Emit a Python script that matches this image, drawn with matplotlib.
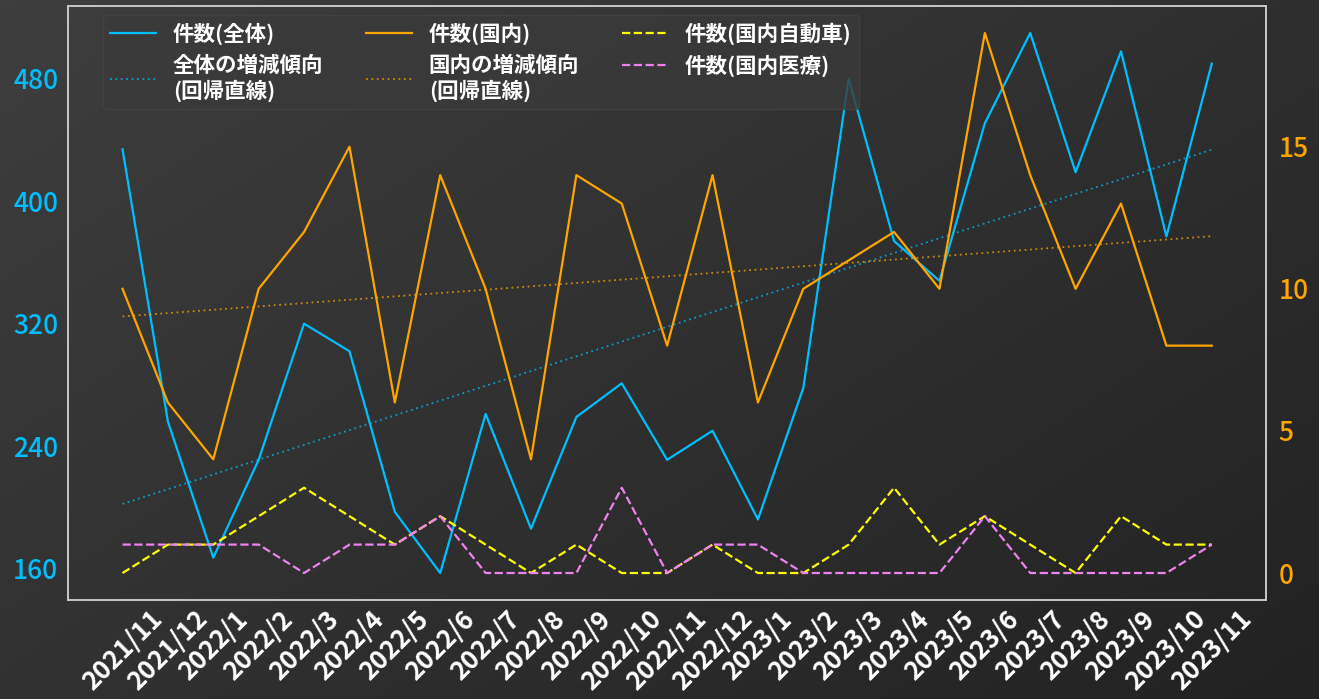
import numpy as np
import matplotlib
matplotlib.use("Agg")
import matplotlib.pyplot as plt
from matplotlib.colors import LinearSegmentedColormap

plt.rcParams["font.family"] = ["Noto Sans CJK JP", "DejaVu Sans"]

# Monthly counts, 2021/11 .. 2023/11
months = ["2021/11", "2021/12", "2022/1", "2022/2", "2022/3", "2022/4", "2022/5",
          "2022/6", "2022/7", "2022/8", "2022/9", "2022/10", "2022/11", "2022/12",
          "2023/1", "2023/2", "2023/3", "2023/4", "2023/5", "2023/6", "2023/7",
          "2023/8", "2023/9", "2023/10", "2023/11"]
total = [434, 256, 167, 231, 320, 302, 197, 157, 261, 186, 259, 281, 231,
         250, 192, 278, 480, 374, 348, 451, 510, 419, 498, 377, 490]
domestic = [10, 6, 4, 10, 12, 15, 6, 14, 10, 4, 14, 13, 8, 14, 6, 10, 11,
            12, 10, 19, 14, 10, 13, 8, 8]
dom_auto = [0, 1, 1, 2, 3, 2, 1, 2, 1, 0, 1, 0, 0, 1, 0, 0, 1, 3, 1, 2, 1,
            0, 2, 1, 1]
dom_medical = [1, 1, 1, 1, 0, 1, 1, 2, 0, 0, 0, 3, 0, 1, 1, 0, 0, 0, 0, 2,
               0, 0, 0, 0, 1]

BLUE = "#00BFFF"
ORANGE = "#FFA500"
YELLOW = "#FFFF00"
PINK = "#EE82EE"

fig = plt.figure(figsize=(13.19, 6.99), dpi=100)

# dark diagonal gradient background
bg = fig.add_axes([0, 0, 1, 1], zorder=-10)
gy, gx = np.mgrid[0:1:200j, 0:1:200j]
grad = 0.55 * gx + 0.45 * gy
cmap = LinearSegmentedColormap.from_list("bg", ["#3e3e3e", "#222222"])
bg.imshow(grad, cmap=cmap, aspect="auto", extent=[0, 1, 0, 1], origin="upper")
bg.axis("off")

ax = fig.add_axes([0.0516, 0.1416, 0.9084, 0.8498])
ax.patch.set_alpha(0)
ax2 = ax.twinx()

x = np.arange(len(months))

h1, = ax.plot(x, total, color=BLUE, lw=1.6, label="件数(全体)")
c_tot = np.polyfit(x, total, 1)
h2, = ax.plot(x, np.polyval(c_tot, x), color=BLUE, lw=1.3, ls=(0, (1, 2)),
              alpha=0.75, label="全体の増減傾向\n(回帰直線)")

h3, = ax2.plot(x, domestic, color=ORANGE, lw=1.6, label="件数(国内)")
c_dom = np.polyfit(x, domestic, 1)
h4, = ax2.plot(x, np.polyval(c_dom, x), color=ORANGE, lw=1.3, ls=(0, (1, 2)),
               alpha=0.75, label="国内の増減傾向\n(回帰直線)")
h5, = ax2.plot(x, dom_auto, color=YELLOW, lw=1.6, ls="--", label="件数(国内自動車)")
h6, = ax2.plot(x, dom_medical, color=PINK, lw=1.6, ls="--", label="件数(国内医療)")

ax.set_yticks([160, 240, 320, 400, 480])
ax2.set_yticks([0, 5, 10, 15])
ax.set_xticks(x)
ax.set_xticklabels(months, rotation=45, fontsize=18.5, color="white", fontweight="bold")

ax.tick_params(axis="y", length=0, pad=7, labelsize=19, labelcolor=BLUE)
ax.tick_params(axis="x", length=0, pad=4)
ax2.tick_params(axis="y", length=0, pad=9, labelsize=19, labelcolor=ORANGE)
for lbl in ax.get_yticklabels() + ax2.get_yticklabels():
    lbl.set_fontweight("medium")

for a in (ax, ax2):
    for s in a.spines.values():
        s.set_color("#c8c8c8")
        s.set_linewidth(1.2)

leg = ax2.legend(handles=[h1, h2, h3, h4, h5, h6], ncol=3, loc="upper left",
                 bbox_to_anchor=(0.029, 0.985), borderaxespad=0, fontsize=15.5,
                 frameon=True, handlelength=2.1, columnspacing=2.0,
                 labelspacing=0.45, borderpad=0.35)
leg.get_frame().set_facecolor("#3a3a3a")
leg.get_frame().set_edgecolor("#444444")
leg.get_frame().set_alpha(0.8)
for t in leg.get_texts():
    t.set_color("white")
    t.set_fontweight("bold")

fig.savefig("out.png", dpi=100)
